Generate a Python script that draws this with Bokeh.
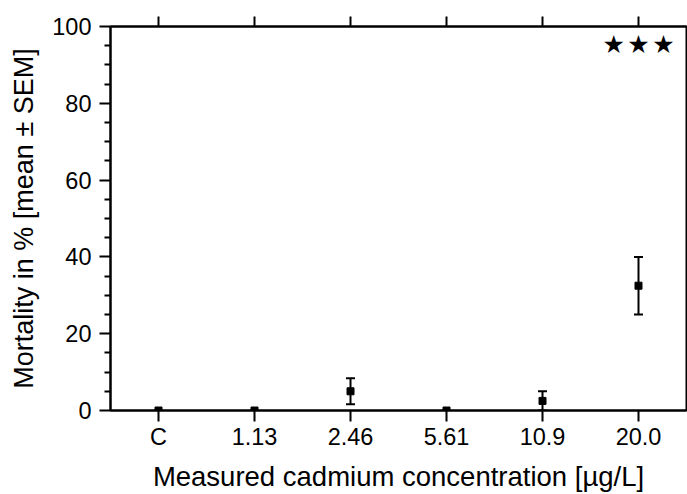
from bokeh.plotting import figure
from bokeh.models import (FixedTicker, LinearAxis, Whisker, TeeHead,
                          ColumnDataSource, Range1d)
from bokeh.core.properties import value
from bokeh.embed import file_html
from bokeh.resources import INLINE

# ---- data -------------------------------------------------------------
categories = ["C", "1.13", "2.46", "5.61", "10.9", "20.0"]
mortality_mean = [0.0, 0.0, 5.0, 0.0, 2.5, 32.5]
mortality_sem = [0.0, 0.0, 3.4, 0.0, 2.5, 7.5]
significance = ["", "", "", "", "", "\u2605\u200a\u2605\u200a\u2605"]
y_ticks = [0, 20, 40, 60, 80, 100]
y_minor = [5, 10, 15, 25, 30, 35, 45, 50, 55, 65, 70, 75, 85, 90, 95]

x_title = "Measured cadmium concentration [\u00b5g/L]"
y_title = "Mortality in % [mean \u00b1 SEM]"

# ---- derived ----------------------------------------------------------
xs = list(range(len(categories)))
lower = [m - s for m, s in zip(mortality_mean, mortality_sem)]
upper = [m + s for m, s in zip(mortality_mean, mortality_sem)]
src = ColumnDataSource(dict(x=xs, mean=mortality_mean, lower=lower, upper=upper))
sig_x = [x for x, s in zip(xs, significance) if s]
sig_t = [s for s in significance if s]
sig_src = ColumnDataSource(dict(x=sig_x, y=[95.2] * len(sig_x), text=sig_t))

FONT = "Liberation Sans"

p = figure(width=687, height=494, output_backend="svg", toolbar_location=None,
           x_range=Range1d(-0.5, len(categories) - 0.5),
           y_range=Range1d(0, 100),
           min_border_left=110, min_border_right=1,
           min_border_top=26, min_border_bottom=83)
p.background_fill_color = "white"
p.border_fill_color = "white"
p.xgrid.visible = False
p.ygrid.visible = False
p.outline_line_color = "black"
p.outline_line_width = 2
p.outline_line_alpha = 1.0

# bottom axis
xa = p.xaxis[0]
xa.ticker = FixedTicker(ticks=xs)
xa.major_label_overrides = {i: c for i, c in zip(xs, categories)}
xa.axis_label = x_title
xa.axis_label_text_font = FONT
xa.axis_label_text_font_size = "27.5px"
xa.axis_label_text_font_style = "normal"
xa.axis_label_text_color = "black"
xa.axis_label_standoff = 8
xa.major_label_text_font = FONT
xa.major_label_text_font_size = "23.5px"
xa.major_label_text_color = "black"
xa.major_label_standoff = 2
xa.axis_line_width = 2
xa.axis_line_color = "black"
xa.major_tick_line_width = 2
xa.major_tick_line_color = "black"
xa.major_tick_out = 11
xa.major_tick_in = 0
xa.minor_tick_line_color = None

# left axis
ya = p.yaxis[0]
ya.ticker = FixedTicker(ticks=y_ticks, minor_ticks=y_minor)
ya.axis_label = y_title
ya.axis_label_text_font = FONT
ya.axis_label_text_font_size = "27px"
ya.axis_label_text_font_style = "normal"
ya.axis_label_text_color = "black"
ya.axis_label_standoff = 10
ya.major_label_text_font = FONT
ya.major_label_text_font_size = "23.5px"
ya.major_label_text_color = "black"
ya.major_label_standoff = 8
ya.axis_line_width = 2
ya.axis_line_color = "black"
ya.major_tick_line_width = 2
ya.major_tick_line_color = "black"
ya.major_tick_out = 11
ya.major_tick_in = 0
ya.minor_tick_line_width = 2
ya.minor_tick_line_color = "black"
ya.minor_tick_out = 6
ya.minor_tick_in = 0

# top axis: ticks only
top = LinearAxis(ticker=FixedTicker(ticks=xs),
                 major_label_text_font_size="0px",
                 major_label_text_color=None,
                 major_label_standoff=0,
                 major_tick_out=10, major_tick_in=0,
                 major_tick_line_width=2, major_tick_line_color="black",
                 minor_tick_line_color=None,
                 axis_line_width=2, axis_line_color="black")
p.add_layout(top, "above")

# error bars
wk = Whisker(source=src, base="x", upper="upper", lower="lower",
             line_width=2, line_color="black",
             upper_head=TeeHead(size=9, line_width=2, line_color="black"),
             lower_head=TeeHead(size=9, line_width=2, line_color="black"))
p.add_layout(wk)

# means
p.scatter(x="x", y="mean", source=src, marker="square", size=7,
          fill_color="black", line_color="black")

# significance stars
p.text(x="x", y="y", text="text", source=sig_src,
       text_font=value("DejaVu Sans"), text_font_size="25px",
       text_align="center", text_baseline="middle", text_color="black")

open("out.html", "w").write(file_html(p, INLINE))
